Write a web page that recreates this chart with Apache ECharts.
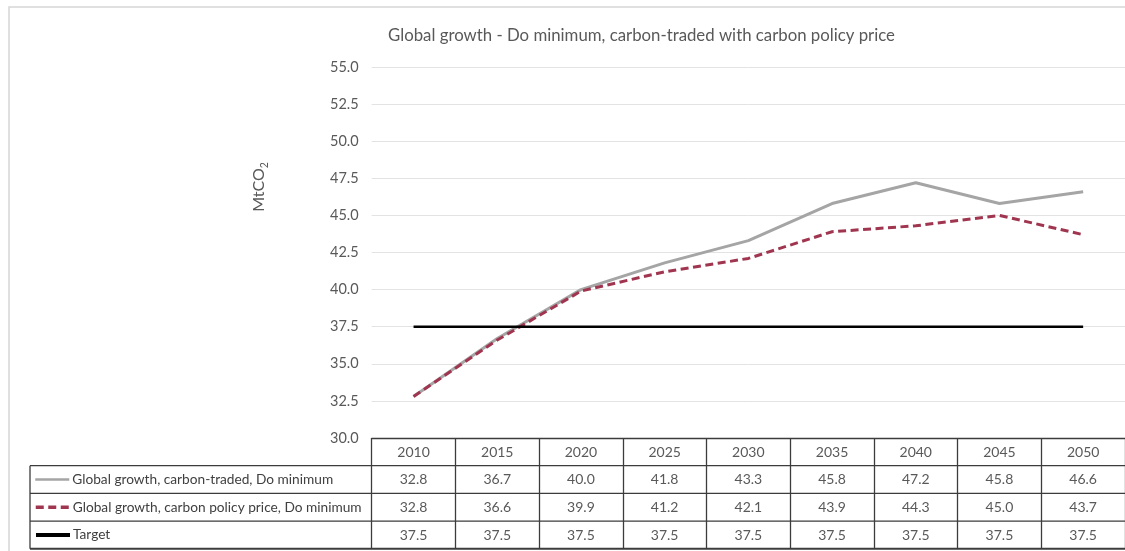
<!DOCTYPE html>
<html>
<head>
<meta charset="utf-8">
<script src="https://cdn.jsdelivr.net/npm/echarts@6/dist/echarts.min.js"></script>
<style>
  html, body { margin: 0; padding: 0; background: #fff; }
  #chart { width: 1125px; height: 551px; }
</style>
</head>
<body>
<div id="chart"></div>
<script>
// Emissions pathways, MtCO2
const years = ['2010', '2015', '2020', '2025', '2030', '2035', '2040', '2045', '2050'];
const tradedName = 'Global growth, carbon-traded, Do minimum';
const policyName = 'Global growth, carbon policy price, Do minimum';
const targetName = 'Target';
const traded = [32.8, 36.7, 40.0, 41.8, 43.3, 45.8, 47.2, 45.8, 46.6];
const policy = [32.8, 36.6, 39.9, 41.2, 42.1, 43.9, 44.3, 45.0, 43.7];
const target = [37.5, 37.5, 37.5, 37.5, 37.5, 37.5, 37.5, 37.5, 37.5];
const yMin = 30, yMax = 55, yStep = 2.5;

const FONT = 'Lato, "Noto Sans", sans-serif';
const TXT = '#595959';
const RULE = '#3c3c3c';

// data-table layout under the plot
const tableTop = 438;
const rowH = 27.7;
const tableLeft = 30;
const rows = [traded, policy, target];
const rowNames = [tradedName, policyName, targetName];
const legendWidths = [2.5, 3.5, 4];

const chart = echarts.init(document.getElementById('chart'));

const valueAxes = rows.map((vals, r) => ({
  type: 'category',
  data: years,
  position: 'bottom',
  offset: rowH * (r + 1),
  boundaryGap: true,
  axisLine: { show: false },
  axisTick: { show: false },
  axisLabel: {
    interval: 0, margin: 7, color: TXT, fontSize: 14, fontFamily: FONT,
    formatter: (v, i) => vals[i].toFixed(1)
  }
}));

const rowLines = [1, 2, 3, 4].map(k => ({
  type: 'line',
  shape: { x1: tableLeft, y1: tableTop + rowH * k, x2: 1125, y2: tableTop + rowH * k },
  style: { stroke: RULE, lineWidth: k === 4 ? 2 : 1.3 },
  silent: true
}));

const legends = rowNames.map((name, r) => ({
  data: [name],
  orient: 'horizontal',
  left: 34,
  top: tableTop + rowH * (r + 1) + rowH / 2 - 7,
  padding: 0,
  itemWidth: 34,
  itemHeight: 14,
  itemGap: 0,
  itemStyle: { opacity: 0 },
  lineStyle: { width: legendWidths[r] },
  textStyle: { color: '#404040', fontSize: 13.7, fontFamily: FONT, padding: [0, 0, 0, -2] }
}));

chart.setOption({
  animation: false,
  backgroundColor: '#fff',
  title: {
    text: 'Global growth - Do minimum, carbon-traded with carbon policy price',
    left: 388,
    top: 27,
    padding: 0,
    textStyle: { color: TXT, fontSize: 16.8, fontWeight: 'normal', fontFamily: FONT }
  },
  legend: legends,
  grid: { left: 371.7, right: -4.7, top: 67, bottom: 551 - tableTop },
  xAxis: [{
    type: 'category',
    data: years,
    position: 'bottom',
    boundaryGap: true,
    axisLine: { show: true, lineStyle: { color: RULE, width: 1.3 } },
    axisTick: { show: true, interval: 0, length: rowH * 4, lineStyle: { color: RULE, width: 1.3 } },
    axisLabel: { interval: 0, margin: 7, color: TXT, fontSize: 14, fontFamily: FONT }
  }].concat(valueAxes),
  yAxis: {
    type: 'value',
    min: yMin,
    max: yMax,
    interval: yStep,
    axisLine: { show: false },
    axisTick: { show: false },
    splitLine: { lineStyle: { color: '#e3e3e3', width: 1 } },
    axisLabel: {
      margin: 13, color: TXT, fontSize: 14.5, fontFamily: FONT,
      formatter: v => v.toFixed(1)
    }
  },
  series: [
    {
      name: tradedName, type: 'line', data: traded, symbol: 'none',
      lineStyle: { color: '#A5A5A5', width: 3 }, itemStyle: { color: '#A5A5A5' },
      emphasis: { disabled: true }
    },
    {
      name: policyName, type: 'line', data: policy, symbol: 'none',
      lineStyle: { color: '#A0354F', width: 3, type: [8, 4.5] }, itemStyle: { color: '#A0354F' },
      emphasis: { disabled: true }
    },
    {
      name: targetName, type: 'line', data: target, symbol: 'none',
      lineStyle: { color: '#000000', width: 2.5 }, itemStyle: { color: '#000000' },
      emphasis: { disabled: true }
    }
  ],
  graphic: [
    {
      type: 'rect',
      shape: { x: 9, y: 7, width: 1140, height: 600 },
      style: { fill: 'none', stroke: '#d6d6d6', lineWidth: 1.5 },
      silent: true, z: -10
    },
    {
      type: 'text',
      x: 259, y: 187,
      rotation: Math.PI / 2,
      style: {
        text: '{m|MtCO}{s|2}',
        align: 'center', verticalAlign: 'middle',
        rich: {
          m: { fontSize: 16, fontFamily: FONT, fill: TXT, verticalAlign: 'bottom' },
          s: { fontSize: 10.5, fontFamily: FONT, fill: TXT, verticalAlign: 'bottom', padding: [0, 0, -3, 0] }
        }
      },
      silent: true
    },
    {
      type: 'line',
      shape: { x1: tableLeft, y1: tableTop + rowH, x2: tableLeft, y2: tableTop + rowH * 4 },
      style: { stroke: RULE, lineWidth: 1.3 },
      silent: true
    }
  ].concat(rowLines)
});
</script>
</body>
</html>
